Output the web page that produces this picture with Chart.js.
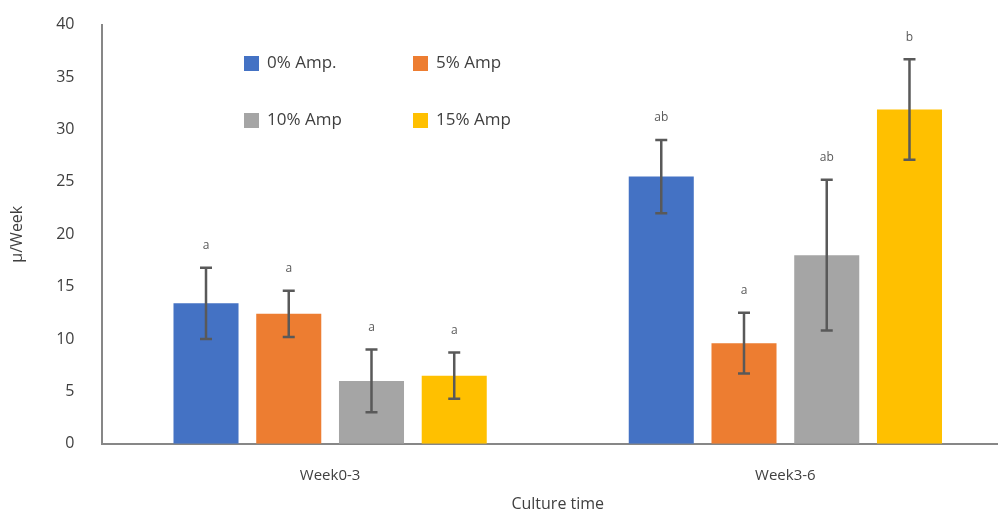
<!DOCTYPE html>
<html>
<head>
<meta charset="utf-8">
<script src="https://cdn.jsdelivr.net/npm/chart.js@4"></script>
<style>
  html, body { margin: 0; padding: 0; background: #fff; overflow: hidden; }
  #wrap { width: 1013px; height: 512px; }
</style>
</head>
<body>
<div id="wrap"><canvas id="growthChart"></canvas></div>
<script>
const categories = ['Week0-3', 'Week3-6'];
const seriesNames = ['0% Amp.', '5% Amp', '10% Amp', '15% Amp'];
const seriesColors = ['#4472C4', '#ED7D31', '#A5A5A5', '#FFC000'];

const amp0 = [13.4, 25.5];
const amp5 = [12.4, 9.6];
const amp10 = [6.0, 18.0];
const amp15 = [6.5, 31.9];

const amp0Err = [3.4, 3.5];
const amp5Err = [2.2, 2.9];
const amp10Err = [3.0, 7.2];
const amp15Err = [2.2, 4.8];

const amp0Letters = ['a', 'ab'];
const amp5Letters = ['a', 'a'];
const amp10Letters = ['a', 'ab'];
const amp15Letters = ['a', 'b'];

const yTicks = [0, 5, 10, 15, 20, 25, 30, 35, 40];

document.addEventListener('DOMContentLoaded', function () {
  const ctx = document.getElementById('growthChart').getContext('2d');
  const font = '"Open Sans", "Noto Sans", sans-serif';

  const values = [amp0, amp5, amp10, amp15];
  const errors = [amp0Err, amp5Err, amp10Err, amp15Err];
  const letters = [amp0Letters, amp5Letters, amp10Letters, amp15Letters];

  // error bars + significance letters
  const errorBarPlugin = {
    id: 'errorBars',
    afterDatasetsDraw(chart) {
      const c = chart.ctx;
      const y = chart.scales.y;
      chart.data.datasets.forEach((ds, i) => {
        const meta = chart.getDatasetMeta(i);
        meta.data.forEach((bar, j) => {
          const v = ds.data[j];
          const e = errors[i][j];
          const top = y.getPixelForValue(v + e);
          const bot = y.getPixelForValue(v - e);
          c.save();
          c.strokeStyle = '#595959';
          c.lineWidth = 2.5;
          c.beginPath();
          c.moveTo(bar.x, top); c.lineTo(bar.x, bot);
          c.moveTo(bar.x - 6, top); c.lineTo(bar.x + 6, top);
          c.moveTo(bar.x - 6, bot); c.lineTo(bar.x + 6, bot);
          c.stroke();
          c.fillStyle = '#595959';
          c.font = '12px ' + font;
          c.textAlign = 'center';
          c.textBaseline = 'middle';
          c.fillText(letters[i][j], bar.x, top - 22);
          c.restore();
        });
      });
    }
  };

  // legend inside plot, 2 x 2
  const insideLegend = {
    id: 'insideLegend',
    afterDraw(chart) {
      const c = chart.ctx;
      const spots = [[244, 56], [413, 56], [244, 113], [413, 113]];
      chart.data.datasets.forEach((ds, i) => {
        const [x, yy] = spots[i];
        c.save();
        c.fillStyle = ds.backgroundColor;
        c.fillRect(x, yy, 15, 15);
        c.fillStyle = '#404040';
        c.font = '17px ' + font;
        c.textBaseline = 'middle';
        c.fillText(ds.label, x + 23, yy + 7.5);
        c.restore();
      });
    }
  };

  new Chart(ctx, {
    type: 'bar',
    data: {
      labels: categories,
      datasets: seriesNames.map((name, i) => ({
        label: name,
        data: values[i],
        backgroundColor: seriesColors[i],
        barPercentage: 0.786,
        categoryPercentage: 0.727
      }))
    },
    options: {
      responsive: true,
      maintainAspectRatio: false,
      animation: false,
      layout: { padding: { top: 0, left: 0, right: 0, bottom: 0 } },
      plugins: {
        legend: { display: false },
        tooltip: { enabled: false }
      },
      scales: {
        x: {
          grid: { display: false, drawTicks: false },
          border: { display: true, color: '#878787', width: 2 },
          ticks: { color: '#404040', font: { family: font, size: 15 }, padding: 23 },
          title: { display: true, text: 'Culture time', color: '#404040', font: { family: font, size: 16 }, padding: { top: -13, bottom: -2 } }
        },
        y: {
          min: 0,
          max: 40,
          afterBuildTicks: (axis) => { axis.ticks = yTicks.map(v => ({ value: v })); },
          grid: { display: false, drawTicks: true, tickLength: 13 },
          border: { display: true, color: '#878787', width: 2 },
          ticks: { color: '#404040', font: { family: font, size: 16 }, padding: 15 },
          title: { display: true, text: 'μ/Week', color: '#404040', font: { family: font, size: 16 }, padding: { top: 8, bottom: 14 } }
        }
      }
    },
    plugins: [errorBarPlugin, insideLegend]
  });
});
</script>
</body>
</html>
